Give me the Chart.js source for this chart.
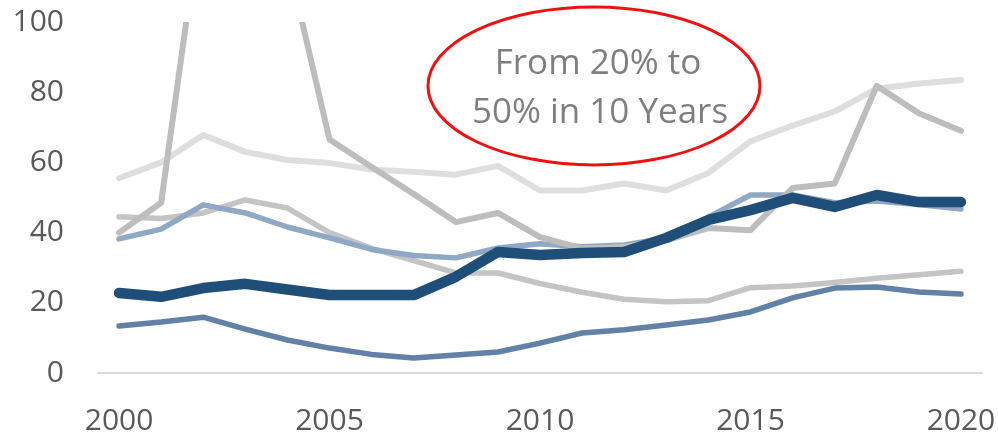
<!DOCTYPE html>
<html>
<head>
<meta charset="utf-8">
<script src="https://cdn.jsdelivr.net/npm/chart.js@4"></script>
<style>
  html, body { margin: 0; padding: 0; background: #fff; }
  #wrap { width: 998px; height: 434px; position: relative; }
</style>
</head>
<body>
<div id="wrap"><canvas id="shareChart"></canvas></div>
<script>
// anni sull'asse x
const years = [2000, 2001, 2002, 2003, 2004, 2005, 2006, 2007, 2008, 2009, 2010,
               2011, 2012, 2013, 2014, 2015, 2016, 2017, 2018, 2019, 2020];

// serie principale (linea spessa)
const mainSeries = [22.8, 21.7, 24.2, 25.4, 23.8, 22.2, 22.2, 22.2, 27.4, 34.5, 33.6,
                    34.2, 34.5, 38.5, 43.6, 46.4, 49.9, 47.3, 50.7, 48.7, 48.7];
// serie di confronto
const lightBlue = [38.2, 41, 47.9, 45.6, 41.6, 38.5, 35.2, 33.5, 32.8, 35.6, 36.8,
                   36, 36.5, 38.5, 44.4, 50.7, 50.7, 48.5, 49, 48, 46.7];
const steelBlue = [13.4, 14.5, 15.9, 12.5, 9.4, 7.1, 5.3, 4.3, 5.1, 6, 8.5,
                   11.4, 12.3, 13.7, 15.1, 17.4, 21.4, 24.2, 24.5, 23.1, 22.5];
const paleGrey = [55.5, 60, 67.8, 63, 60.7, 59.8, 58, 57.3, 56.5, 59, 52,
                  52, 54, 52, 57, 66, 70.5, 74.5, 81, 82.5, 83.5];
const spikeGrey = [40, 48.5, 135, 140, 118, 66.5, 58.7, 51, 43, 45.6, 38.7,
                   35.5, 36, 37.8, 41.3, 40.7, 52.7, 54, 81.8, 74, 69];
const midGrey = [44.5, 44, 45.6, 49.3, 47, 40, 35.5, 32, 28.5, 28.5, 25.5,
                 23, 21, 20.3, 20.6, 24.3, 24.8, 25.8, 27, 28, 29];

const yTicks = [0, 20, 40, 60, 80, 100];
const noteLines = ['From 20% to', '50% in 10 Years'];

const FONT = "'Open Sans', sans-serif";

function line(data, color, width) {
    return {
        data: data,
        borderColor: color,
        borderWidth: width,
        pointRadius: 0,
        pointHoverRadius: 0,
        fill: false,
        tension: 0,
        borderJoinStyle: 'round',
        borderCapStyle: 'round'
    };
}

// ellisse rossa con il commento
const notePlugin = {
    id: 'note',
    afterDraw(chart) {
        const ctx = chart.ctx;
        const x = chart.scales.x, y = chart.scales.y;
        const cx = x.getPixelForValue(11.33);
        const cy = y.getPixelForValue(81.8);
        ctx.save();
        ctx.beginPath();
        ctx.ellipse(cx - 2, cy, 166, 79, 0, 0, Math.PI * 2);
        ctx.strokeStyle = '#ee1111';
        ctx.lineWidth = 3;
        ctx.stroke();
        ctx.fillStyle = '#7f7f7f';
        ctx.font = '35px ' + FONT;
        ctx.textAlign = 'center';
        ctx.textBaseline = 'alphabetic';
        ctx.fillText(noteLines[0], cx + 2, cy - 12);
        ctx.fillText(noteLines[1], cx + 4, cy + 37);
        ctx.restore();
    }
};

const ctx = document.getElementById('shareChart').getContext('2d');
new Chart(ctx, {
    type: 'line',
    data: {
        labels: years,
        datasets: [
            line(mainSeries, '#1f4e79', 10.5),
            line(spikeGrey, '#bdbdbd', 6),
            line(lightBlue, '#8fa8c4', 5.5),
            line(midGrey, '#c4c4c4', 5.5),
            line(steelBlue, '#6181a6', 5.5),
            line(paleGrey, '#dedede', 6)
        ]
    },
    options: {
        responsive: true,
        maintainAspectRatio: false,
        animation: false,
        layout: { padding: { top: 22, right: 16, left: 0, bottom: 0 } },
        plugins: {
            legend: { display: false },
            tooltip: { enabled: false }
        },
        scales: {
            x: {
                type: 'category',
                offset: true,
                grid: { display: false, drawTicks: false },
                border: { display: true, color: '#d9d9d9', width: 2 },
                ticks: {
                    autoSkip: false,
                    maxRotation: 0,
                    padding: 30,
                    color: '#595959',
                    font: { family: FONT, size: 30 },
                    callback: (v, i) => years[i] % 5 === 0 ? String(years[i]) : ''
                },
                // niente spazio extra per le etichette
                afterFit: s => { s.height = 61; s.paddingLeft = 0; s.paddingRight = 0; }
            },
            y: {
                min: 0,
                max: 100,
                grid: { display: false, drawTicks: false },
                border: { display: false },
                afterBuildTicks: s => { s.ticks = yTicks.map(v => ({ value: v })); },
                ticks: {
                    padding: 34,
                    color: '#595959',
                    font: { family: FONT, size: 30 }
                },
                afterFit: s => { s.width = 98; s.paddingTop = 0; s.paddingBottom = 0; }
            }
        }
    },
    plugins: [notePlugin]
});
</script>
</body>
</html>
